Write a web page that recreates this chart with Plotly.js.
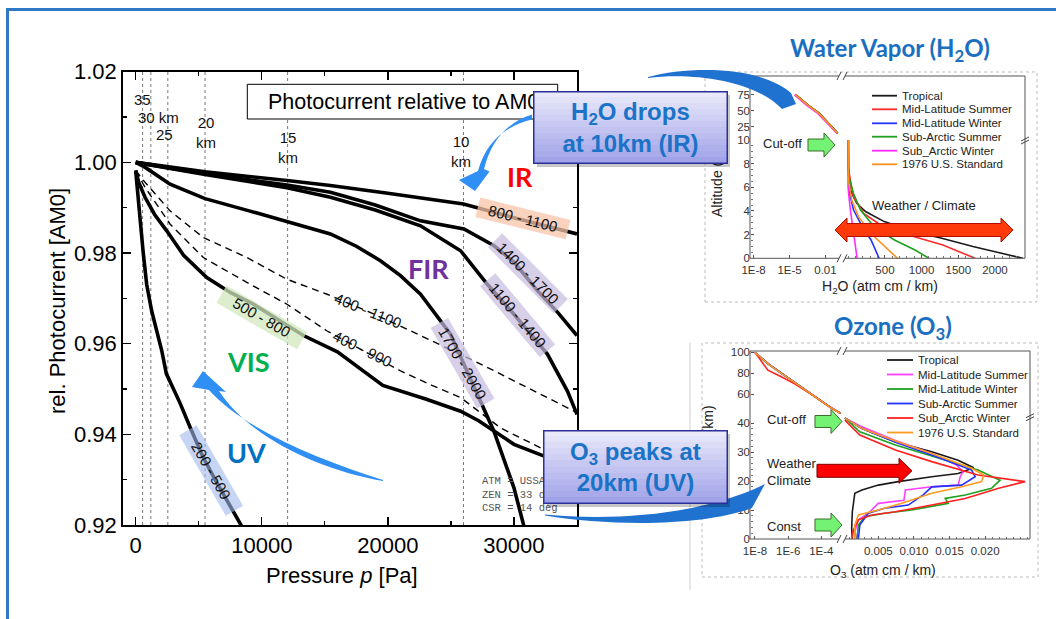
<!DOCTYPE html>
<html><head><meta charset="utf-8">
<script src="https://cdn.plot.ly/plotly-3.0.1.min.js"></script>
<style>html,body{margin:0;padding:0;background:#fff;}#chart{width:1056px;height:619px;}</style>
</head><body><div id="chart"></div>
<script>
// ================= MAIN CHART DATA (pressure in Pa, photocurrent rel. to AM0) =================
const p_IR_800_1100 = [0, 2550, 5500, 12000, 15440, 20000, 26000, 30000, 35000];
const v_IR_800_1100 = [1.0000, 0.9990, 0.9979, 0.9960, 0.9949, 0.9932, 0.9908, 0.9878, 0.9842];

const p_1400_1700 = [0, 2550, 5500, 12000, 15440, 19000, 22590, 26030, 28420, 30000, 31860, 33500, 35000];
const v_1400_1700 = [1.0000, 0.9988, 0.9975, 0.9950, 0.9934, 0.9906, 0.9871, 0.9853, 0.9816, 0.9780, 0.9717, 0.9668, 0.9618];

const p_1100_1400 = [0, 2550, 5500, 12000, 15440, 19000, 22590, 25770, 27890, 30000, 32650, 34250, 35000];
const v_1100_1400 = [1.0000, 0.9987, 0.9973, 0.9944, 0.9923, 0.9895, 0.9860, 0.9805, 0.9731, 0.9665, 0.9577, 0.9495, 0.9444];

const p_FIR_1700_2000 = [0, 700, 2725, 5500, 9000, 12000, 15440, 17500, 19410, 21000, 22590, 24970, 27360, 28410, 30000, 30800, 31000];
const v_FIR_1700_2000 = [1.0000, 0.9990, 0.9952, 0.9920, 0.9893, 0.9870, 0.9842, 0.9815, 0.9783, 0.9750, 0.9709, 0.9621, 0.9473, 0.9407, 0.9282, 0.9193, 0.9175];

const p_VIS_500_800 = [0, 250, 740, 1500, 2460, 3800, 5640, 7500, 9350, 11500, 13300, 16000, 19600, 23000, 25770, 27200, 28410, 30000, 32390, 35000];
const v_VIS_500_800 = [0.9982, 0.9955, 0.9923, 0.9885, 0.9849, 0.9795, 0.9746, 0.9713, 0.9687, 0.9650, 0.9618, 0.9582, 0.9508, 0.9478, 0.9451, 0.9430, 0.9407, 0.9378, 0.9352, 0.9330];

const p_400_1100 = [0, 740, 2725, 5370, 8820, 12000, 15180, 18500, 21530, 24500, 27360, 30000, 32500, 35000];
const v_400_1100 = [0.9982, 0.9956, 0.9893, 0.9834, 0.9790, 0.9742, 0.9709, 0.9670, 0.9632, 0.9593, 0.9555, 0.9518, 0.9483, 0.9448];

const p_400_900 = [0, 740, 2725, 5370, 8820, 12000, 15180, 18000, 21000, 23500, 25770, 28940, 32120, 35000];
const v_400_900 = [0.9982, 0.9945, 0.9864, 0.9790, 0.9735, 0.9687, 0.9628, 0.9586, 0.9540, 0.9508, 0.9481, 0.9414, 0.9370, 0.9332];

const p_UV_200_500 = [0, 150, 340, 600, 870, 1270, 2070, 2430, 3500, 4400, 5320, 6200, 7000, 8360, 8700];
const v_UV_200_500 = [0.9982, 0.9930, 0.9878, 0.9800, 0.9731, 0.9672, 0.9584, 0.9534, 0.9470, 0.9410, 0.9351, 0.9305, 0.9266, 0.9200, 0.9183];

// altitude marker lines (pressure at altitude)
const kmPressure = [550, 1200, 2550, 5500, 12050, 26000];
const kmLabels = ['35', '30 km', '25', '20<br>km', '15<br>km', '10<br>km'];

const xTickVals = [0, 10000, 20000, 30000];
const yTickVals = [0.92, 0.94, 0.96, 0.98, 1.00, 1.02];

// ================= INSET DATA =================
const models = ['Tropical', 'Mid-Latitude Summer', 'Mid-Latitude Winter', 'Sub-Arctic Summer', 'Sub_Arctic Winter', '1976 U.S. Standard'];

// Water vapour, lower part (0-10 km), H2O in atm cm / km
const h2oTropical = [0, 2, 25, 115, 235, 490, 900, 1275, 1700, 2110, 2380];
const altTropical = [10, 7.7, 5.8, 4.65, 3.95, 3.1, 2.25, 1.7, 1.0, 0.42, 0];
const h2oMLS = [0, 3, 70, 210, 445, 820, 1290, 1730];
const altMLS = [10, 7.5, 5.2, 3.8, 2.8, 1.97, 1.12, 0];
const h2oMLW = [0, 2, 70, 190, 310, 420];
const altMLW = [10, 5.9, 4.1, 2.67, 1.55, 0];
const h2oSAS = [0, 2, 70, 165, 350, 630, 910, 1100];
const altSAS = [10, 7.0, 5.5, 4.1, 2.67, 1.55, 0.7, 0];
const h2oSAW = [0, 2, 28, 75, 120];
const altSAW = [10, 5.6, 4.1, 2.1, 0];
const h2oStd = [0, 2, 48, 140, 310, 500, 670];
const altStd = [10, 6.6, 4.9, 3.5, 2.1, 1.0, 0];

// Water vapour, upper part (log scale)
const h2oUpAlt = [75, 59, 46, 25, 14.6];
const h2oUpTropical = [3.5e-5, 3.6e-4, 3.2e-3, 3.3e-2, 0.11];
const h2oUpMLS = [3.3e-5, 3.4e-4, 3.0e-3, 3.1e-2, 0.10];
const h2oUpMLW = [3.0e-5, 3.0e-4, 2.7e-3, 2.8e-2, 0.095];
const h2oUpSAS = [3.4e-5, 3.5e-4, 3.1e-3, 3.2e-2, 0.105];
const h2oUpSAW = [2.6e-5, 2.6e-4, 2.3e-3, 2.5e-2, 0.09];
const h2oUpStd = [3.2e-5, 3.3e-4, 2.9e-3, 3.0e-2, 0.10];

// Ozone, lower part (0-42 km), O3 in atm cm / km
const o3Tropical = [0.0003, 0.0027, 0.0074, 0.0125, 0.0162, 0.0184, 0.0162, 0.0125, 0.0078, 0.0050, 0.0027, 0.0017, 0.00135, 0.00126, 0.00135];
const o3AltTropical = [41.8, 38.1, 33.5, 30.1, 27.2, 24.6, 22.6, 21.5, 19.8, 18.6, 16.9, 15.8, 9.4, 3.7, 0];
const o3MLS = [0.0003, 0.0027, 0.0074, 0.0125, 0.0160, 0.0169, 0.0165, 0.0162, 0.0125, 0.0088, 0.0086, 0.0050, 0.0036, 0.0022, 0.0017, 0.0020];
const o3AltMLS = [41.8, 38.7, 34.0, 29.5, 25.5, 23.2, 21.5, 18.6, 18.0, 16.9, 13.4, 12.3, 8.9, 6.6, 2.5, 0];
const o3MLW = [0.0003, 0.0024, 0.0074, 0.0125, 0.0190, 0.0221, 0.0209, 0.0172, 0.0144, 0.0148, 0.0097, 0.0059, 0.0031, 0.0022, 0.0020];
const o3AltMLW = [41.8, 37.0, 32.4, 28.7, 23.8, 20.3, 17.5, 15.2, 14.0, 12.3, 10.0, 8.9, 7.7, 4.8, 0];
const o3SAS = [0.0003, 0.0027, 0.0078, 0.0125, 0.0181, 0.0186, 0.0167, 0.0125, 0.0113, 0.0092, 0.0059, 0.0036, 0.0024, 0.0022];
const o3AltSAS = [41.8, 38.1, 33.0, 29.0, 23.8, 21.5, 18.6, 18.0, 15.2, 11.7, 10.6, 8.9, 4.8, 0];
const o3SAW = [0.0003, 0.0024, 0.0074, 0.0125, 0.0190, 0.0256, 0.0219, 0.0172, 0.0125, 0.0074, 0.0041, 0.0022, 0.0015, 0.0013];
const o3AltSAW = [41.0, 35.9, 30.7, 26.7, 22.1, 19.8, 17.5, 14.0, 11.7, 9.4, 8.3, 6.6, 3.1, 0];
const o3Std = [0.0003, 0.0027, 0.0078, 0.0125, 0.0181, 0.0198, 0.0195, 0.0167, 0.0125, 0.0083, 0.0050, 0.0022, 0.0017, 0.0017];
const o3AltStd = [41.8, 38.1, 33.5, 29.5, 24.4, 22.1, 19.8, 18.0, 15.8, 12.3, 10.0, 8.3, 4.8, 0];

// Ozone, upper part (log scale)
const o3UpAlt = [100, 89, 80, 71, 59, 48, 42];
const o3UpAltSAW = [100, 83, 77, 70, 59, 48, 42];
const o3UpTropical = [1e-8, 6.5e-8, 4.2e-7, 2.6e-6, 3.3e-5, 3.3e-4, 1.45e-3];
const o3UpMLS = [1e-8, 6.2e-8, 4.0e-7, 2.5e-6, 3.2e-5, 3.2e-4, 1.45e-3];
const o3UpMLW = [1e-8, 6.0e-8, 3.9e-7, 2.4e-6, 3.1e-5, 3.1e-4, 1.45e-3];
const o3UpSAS = [1e-8, 6.4e-8, 4.1e-7, 2.6e-6, 3.3e-5, 3.3e-4, 1.45e-3];
const o3UpSAW = [1e-8, 6.0e-8, 3.6e-7, 2.5e-6, 3.1e-5, 3.1e-4, 1.40e-3];
const o3UpStd = [1e-8, 6.2e-8, 4.0e-7, 2.5e-6, 3.2e-5, 3.2e-4, 1.45e-3];

// ================= helpers =================
const W = 1056, H = 619;
const X = px => px / W;
const Y = py => 1 - py / H;
const FONT = 'Liberation Sans, Arial, sans-serif';
const CAL = 'Lato, Liberation Sans, sans-serif';
function sp(cmds) {
  return cmds.map(c => c[0] === 'Z' ? 'Z' : c[0] + c.slice(1).map(([a, b]) => X(a).toFixed(5) + ',' + Y(b).toFixed(5)).join(' ')).join(' ');
}
function poly(pts) { return 'M' + pts.map(([a, b]) => X(a).toFixed(5) + ',' + Y(b).toFixed(5)).join('L') + 'Z'; }
function arrowPts(x0, x1, yc, hs, hh, hl) {
  return [[x0, yc - hs / 2], [x1 - hl, yc - hs / 2], [x1 - hl, yc - hh / 2], [x1, yc], [x1 - hl, yc + hh / 2], [x1 - hl, yc + hs / 2], [x0, yc + hs / 2]];
}
function dblArrowPts(xl, xr, yc, hs, hh, hl) {
  return [[xl, yc], [xl + hl, yc - hh / 2], [xl + hl, yc - hs / 2], [xr - hl, yc - hs / 2], [xr - hl, yc - hh / 2], [xr, yc],
          [xr - hl, yc + hh / 2], [xr - hl, yc + hs / 2], [xl + hl, yc + hs / 2], [xl + hl, yc + hh / 2]];
}
function ann(px, py, text, opt) {
  return Object.assign({xref: 'paper', yref: 'paper', x: X(px), y: Y(py), text: text, showarrow: false,
    xanchor: 'center', yanchor: 'middle', font: {family: FONT, size: 13, color: '#222'}}, opt || {});
}

// ================= traces =================
const traces = [];
const mainCurves = [
  {p: p_400_1100, v: v_400_1100, dash: true},
  {p: p_400_900, v: v_400_900, dash: true},
  {p: p_IR_800_1100, v: v_IR_800_1100},
  {p: p_1400_1700, v: v_1400_1700},
  {p: p_1100_1400, v: v_1100_1400},
  {p: p_FIR_1700_2000, v: v_FIR_1700_2000},
  {p: p_VIS_500_800, v: v_VIS_500_800},
  {p: p_UV_200_500, v: v_UV_200_500}
];
mainCurves.forEach(c => traces.push({
  x: c.p, y: c.v, xaxis: 'x', yaxis: 'y', mode: 'lines', hoverinfo: 'skip',
  line: c.dash ? {color: '#000', width: 1.4, dash: '7px,5px'} : {color: '#000', width: 3.6}
}));

const h2oColors = ['#1a1a1a', '#ff2b2b', '#2233ff', '#1fa01f', '#ff2bff', '#ff9020'];
const h2oLow = [[h2oTropical, altTropical], [h2oMLS, altMLS], [h2oMLW, altMLW], [h2oSAS, altSAS], [h2oSAW, altSAW], [h2oStd, altStd]];
const h2oUp = [h2oUpTropical, h2oUpMLS, h2oUpMLW, h2oUpSAS, h2oUpSAW, h2oUpStd];
h2oLow.forEach((d, i) => traces.push({x: d[0], y: d[1], xaxis: 'x3', yaxis: 'y2', mode: 'lines', hoverinfo: 'skip', line: {color: h2oColors[i], width: 1.6}}));
h2oUp.forEach((d, i) => traces.push({x: d, y: h2oUpAlt, xaxis: 'x2', yaxis: 'y3', mode: 'lines', hoverinfo: 'skip', line: {color: h2oColors[i], width: 1.6}}));

const o3Colors = ['#1a1a1a', '#ff40ff', '#1fa01f', '#2233ff', '#ff2020', '#ff9a20'];
const o3Low = [[o3Tropical, o3AltTropical], [o3MLS, o3AltMLS], [o3MLW, o3AltMLW], [o3SAS, o3AltSAS], [o3SAW, o3AltSAW], [o3Std, o3AltStd]];
const o3Up = [o3UpTropical, o3UpMLS, o3UpMLW, o3UpSAS, o3UpSAW, o3UpStd];
o3Low.forEach((d, i) => traces.push({x: d[0], y: d[1], xaxis: 'x5', yaxis: 'y4', mode: 'lines', hoverinfo: 'skip', line: {color: o3Colors[i], width: 1.6}}));
o3Up.forEach((d, i) => traces.push({x: d, y: i === 4 ? o3UpAltSAW : o3UpAlt, xaxis: 'x4', yaxis: 'y5', mode: 'lines', hoverinfo: 'skip', line: {color: o3Colors[i], width: 1.6}}));

// ================= shapes =================
const shapes = [];
shapes.push({type: 'rect', xref: 'paper', yref: 'paper', x0: X(7.5), x1: X(1070), y0: Y(640), y1: Y(9.5), line: {color: '#2e78c6', width: 3}});
kmPressure.forEach(p => shapes.push({type: 'line', xref: 'x', yref: 'y', x0: p, x1: p, y0: 0.92, y1: 1.02, layer: 'below', line: {color: '#777', width: 1, dash: 'dot'}}));
shapes.push({type: 'rect', xref: 'paper', yref: 'paper', x0: X(247.3), x1: X(557.7), y0: Y(119), y1: Y(84.3), fillcolor: '#fff', line: {color: '#000', width: 1}});
shapes.push({type: 'rect', xref: 'paper', yref: 'paper', x0: X(705), x1: X(1037), y0: Y(302), y1: Y(72), line: {color: '#bbb', width: 1, dash: 'dot'}});
shapes.push({type: 'rect', xref: 'paper', yref: 'paper', x0: X(702), x1: X(1038), y0: Y(577), y1: Y(343), line: {color: '#bbb', width: 1, dash: 'dot'}});
shapes.push({type: 'line', xref: 'paper', yref: 'paper', x0: X(690), x1: X(690), y0: Y(590), y1: Y(343), line: {color: '#d0d0d0', width: 1}});
shapes.push({type: 'rect', xref: 'paper', yref: 'paper', x0: X(750), x1: X(1025), y0: Y(258.3), y1: Y(76), line: {color: '#555', width: 1}});
shapes.push({type: 'rect', xref: 'paper', yref: 'paper', x0: X(750), x1: X(1030), y0: Y(539), y1: Y(351), line: {color: '#555', width: 1}});
function breakMark(x, y) {
  shapes.push({type: 'rect', xref: 'paper', yref: 'paper', x0: X(x - 3), x1: X(x + 3), y0: Y(y + 3), y1: Y(y - 3), fillcolor: '#fff', line: {width: 0}});
  shapes.push({type: 'line', xref: 'paper', yref: 'paper', x0: X(x - 5), x1: X(x - 1), y0: Y(y + 4), y1: Y(y - 4), line: {color: '#444', width: 1}});
  shapes.push({type: 'line', xref: 'paper', yref: 'paper', x0: X(x + 1), x1: X(x + 5), y0: Y(y + 4), y1: Y(y - 4), line: {color: '#444', width: 1}});
}
breakMark(842, 258.3); breakMark(842, 76); breakMark(842, 539); breakMark(842, 351);
function hBreak(x, y) {
  shapes.push({type: 'line', xref: 'paper', yref: 'paper', x0: X(x - 4), x1: X(x + 4), y0: Y(y + 1), y1: Y(y - 3), line: {color: '#444', width: 1}});
  shapes.push({type: 'line', xref: 'paper', yref: 'paper', x0: X(x - 4), x1: X(x + 4), y0: Y(y + 4), y1: Y(y), line: {color: '#444', width: 1}});
}
hBreak(1025, 140); hBreak(1030, 416.7);
const green = {fillcolor: '#74f274', line: {color: '#3a6e2a', width: 1}};
[[808, 835, 145], [815, 842, 421.5], [815, 842, 525]].forEach(a =>
  shapes.push(Object.assign({type: 'path', xref: 'paper', yref: 'paper', path: poly(arrowPts(a[0], a[1], a[2], 12, 24, 11))}, green)));
shapes.push({type: 'path', xref: 'paper', yref: 'paper', path: poly(arrowPts(817, 912, 470.8, 13, 25, 13)), fillcolor: '#ff0000', line: {color: '#7a0000', width: 1}});
shapes.push({type: 'path', xref: 'paper', yref: 'paper', path: poly(dblArrowPts(835, 1013, 230, 13, 24, 12)), fillcolor: '#ff3a0a', line: {color: '#b01000', width: 1}});
shapes.push({type: 'path', xref: 'paper', yref: 'paper', fillcolor: '#2f8ff5', line: {width: 0},
  path: sp([['M', [532, 114.5]], ['Q', [495, 126], [484, 169]], ['L', [489.5, 171.5]], ['L', [475, 191]], ['L', [459, 180]], ['L', [478, 171]], ['Q', [489, 130], [532, 119.5]], ['Z']])});
shapes.push({type: 'path', xref: 'paper', yref: 'paper', fillcolor: '#2f8ff5', line: {width: 0},
  path: sp([['M', [383, 480]], ['C', [320, 460], [245, 430], [209, 390]], ['L', [192, 387]], ['L', [203, 371]], ['L', [226, 392]], ['L', [219, 391]], ['C', [250, 438], [320, 470], [383, 481]], ['Z']])});
shapes.push({type: 'path', xref: 'paper', yref: 'paper', fillcolor: '#1f72cf', line: {width: 0},
  path: sp([['M', [648, 77]], ['C', [690, 66], [760, 66], [791, 93]], ['L', [796, 104]], ['L', [782, 109]], ['C', [755, 80], [690, 72], [648, 78]], ['Z']])});
shapes.push({type: 'path', xref: 'paper', yref: 'paper', fillcolor: '#1f72cf', line: {width: 0},
  path: sp([['M', [545, 514.5]], ['C', [610, 521], [700, 516], [765, 484]], ['L', [752, 508]], ['C', [700, 527], [610, 526], [545, 515.5]], ['Z']])});
const wvRows = [95.7, 109.3, 123.3, 136.7, 150.7, 164.3];
const ozRows = [360, 374.5, 389, 403.5, 418, 432.5];
wvRows.forEach((y, i) => shapes.push({type: 'line', xref: 'paper', yref: 'paper', x0: X(872), x1: X(897), y0: Y(y), y1: Y(y), line: {color: h2oColors[i], width: 1.8}}));
ozRows.forEach((y, i) => shapes.push({type: 'line', xref: 'paper', yref: 'paper', x0: X(887), x1: X(913), y0: Y(y), y1: Y(y), line: {color: o3Colors[i], width: 1.8}}));

// ================= annotations =================
const anns = [];
anns.push(ann(342, 575, 'Pressure <i>p</i> [Pa]', {font: {family: FONT, size: 22, color: '#000'}}));
anns.push(ann(57, 301, 'rel. Photocurrent [AM0]', {textangle: -90, font: {family: FONT, size: 22, color: '#000'}}));
anns.push(ann(403.5, 101.5, 'Photocurrent relative to AM0', {font: {family: FONT, size: 21.5, color: '#000'}}));
const kmPos = [[142, 99], [158.5, 117], [164, 135], [206, 132], [288, 147], [461, 152]];
kmLabels.forEach((t, i) => anns.push(ann(kmPos[i][0], kmPos[i][1], t, {font: {family: FONT, size: 15, color: '#111'}})));
const bandLabels = [
  ['800 - 1100', 523.3, 218.3, 14, 'rgba(248,196,170,0.75)'],
  ['1400 - 1700', 528.3, 273.3, 45, 'rgba(200,186,224,0.7)'],
  ['1100 - 1400', 518, 315, 50, 'rgba(200,186,224,0.7)'],
  ['1700 - 2000', 463, 363, 60, 'rgba(200,186,224,0.7)'],
  ['500 - 800', 262, 317, 30, 'rgba(210,232,190,0.75)'],
  ['200 - 500', 211, 470.7, 60, 'rgba(160,185,235,0.6)'],
  ['400 - 1100', 368, 310, 22, null],
  ['400 - 900', 362, 348, 26, null]
];
bandLabels.forEach(b => anns.push(ann(b[1], b[2], b[0], Object.assign({textangle: b[3], font: {family: FONT, size: 15, color: '#111'}},
  b[4] ? {bgcolor: b[4], width: 90, height: 17, borderpad: 1} : {}))));
anns.push(ann(520, 176, '<b>IR</b>', {font: {family: CAL, size: 27, color: '#ff0000'}}));
anns.push(ann(428, 268, '<b>FIR</b>', {font: {family: CAL, size: 27, color: '#7030a0'}}));
anns.push(ann(248, 361, '<b>VIS</b>', {font: {family: CAL, size: 27, color: '#00b050'}}));
anns.push(ann(246, 452, '<b>UV</b>', {font: {family: CAL, size: 27, color: '#0070c0'}}));
anns.push(ann(480, 494, 'ATM = USSA<br>ZEN = 33 deg<br>CSR = 14 deg', {xanchor: 'left', align: 'left', font: {family: 'Liberation Mono, monospace', size: 10.5, color: '#555'}}));

anns.push(ann(890, 49, '<b>Water Vapor (H<sub>2</sub>O)</b>', {font: {family: CAL, size: 24, color: '#1a6fc2'}}));
anns.push(ann(893, 327, '<b>Ozone (O<sub>3</sub>)</b>', {font: {family: CAL, size: 24, color: '#1a6fc2'}}));
anns.push(ann(880, 287, 'H<sub>2</sub>O (atm cm / km)', {font: {family: FONT, size: 14, color: '#222'}}));
anns.push(ann(882.5, 571, 'O<sub>3</sub> (atm cm / km)', {font: {family: FONT, size: 14, color: '#222'}}));
anns.push(ann(717, 178, 'Altitude (km)', {textangle: -90, font: {family: FONT, size: 14, color: '#222'}}));
anns.push(ann(708, 445, 'Altitude (km)', {textangle: -90, font: {family: FONT, size: 14, color: '#222'}}));
anns.push(ann(782, 143.5, 'Cut-off', {font: {family: FONT, size: 13, color: '#222'}}));
anns.push(ann(924, 205, 'Weather / Climate', {font: {family: FONT, size: 13, color: '#222'}}));
anns.push(ann(765, 420, 'Cut-off', {xanchor: 'left', font: {family: FONT, size: 13, color: '#222'}}));
anns.push(ann(765, 471.5, 'Weather<br>Climate', {xanchor: 'left', align: 'left', font: {family: FONT, size: 13, color: '#222'}}));
anns.push(ann(765, 526, 'Const', {xanchor: 'left', font: {family: FONT, size: 13, color: '#222'}}));
models.forEach((m, i) => {
  anns.push(ann(899.5, wvRows[i], m, {xanchor: 'left', font: {family: FONT, size: 11.5, color: '#222'}}));
  anns.push(ann(915.5, ozRows[i], m, {xanchor: 'left', font: {family: FONT, size: 11.5, color: '#222'}}));
});

// callout boxes with vertical gradient (drawn last, on top)
const NB = '\u00a0';
function callout(x0, y0, x1, y1, text) {
  const cx = (x0 + x1) / 2, w = x1 - x0, h = y1 - y0;
  anns.push(ann(cx + 3, (y0 + y1) / 2 + 3, NB, {width: w, height: h, bgcolor: 'rgba(0,0,0,0.22)', borderpad: 0, borderwidth: 0, font: {size: 4}}));
  const N = 12, top = [236, 236, 251], bot = [158, 160, 232];
  for (let i = 0; i < N; i++) {
    const t = (i + 0.5) / N;
    const c = top.map((v, k) => Math.round(v + (bot[k] - v) * t));
    anns.push(ann(cx, y0 + h * (i + 0.5) / N, NB, {width: w, height: h / N + 0.8, bgcolor: 'rgb(' + c.join(',') + ')', borderpad: 0, borderwidth: 0, font: {size: 4}}));
  }
  anns.push(ann(cx, (y0 + y1) / 2, text, {width: w - 1.5, height: h - 1.5, borderpad: 0, borderwidth: 1.5, bordercolor: '#2a2f9c',
    font: {family: FONT, size: 24, color: '#1a73c6'}}));
}
callout(533.3, 91.7, 726.7, 163.3, '<b>H<sub>2</sub>O drops<br>at 10km (IR)</b>');
callout(543.3, 430.7, 726.7, 503.3, '<b>O<sub>3</sub> peaks at<br>20km (UV)</b>');

// ================= layout =================
const insetTick = {family: FONT, size: 11.5, color: '#333'};
const baseInset = {showgrid: false, zeroline: false, showline: false, ticks: 'inside', ticklen: 3, tickcolor: '#555', tickfont: insetTick, anchor: 'free'};
const layout = {
  width: W, height: H, margin: {l: 0, r: 0, t: 0, b: 0, pad: 0},
  paper_bgcolor: '#fff', plot_bgcolor: 'rgba(0,0,0,0)', showlegend: false, hovermode: false,
  xaxis: {domain: [X(122.7), X(577)], range: [-1030, 35000], anchor: 'y', showline: true, linecolor: '#000', linewidth: 1.5,
    mirror: 'ticks', ticks: 'inside', ticklen: 8, tickwidth: 1.3, tickcolor: '#000', tickvals: xTickVals, tickformat: 'd',
    minor: {dtick: 5000, tick0: 0, ticks: 'inside', ticklen: 4, tickcolor: '#000', showgrid: false},
    showgrid: false, zeroline: false, tickfont: {family: FONT, size: 22, color: '#000'}},
  yaxis: {domain: [Y(525), Y(71.7)], range: [0.92, 1.02], anchor: 'x', showline: true, linecolor: '#000', linewidth: 1.5,
    mirror: 'ticks', ticks: 'inside', ticklen: 8, tickwidth: 1.3, tickcolor: '#000', tickvals: yTickVals, tickformat: '.2f',
    minor: {dtick: 0.01, tick0: 0.92, ticks: 'inside', ticklen: 4, tickcolor: '#000', showgrid: false},
    showgrid: false, zeroline: false, tickfont: {family: FONT, size: 22, color: '#000'}},
  xaxis2: Object.assign({}, baseInset, {domain: [X(750), X(842)], type: 'log', range: [-8.3, -0.62], position: Y(258.3),
    ticklabelstandoff: 3, tickvals: [1e-8, 1e-5, 1e-2], ticktext: ['1E-8', '1E-5', '0.01']}),
  xaxis3: Object.assign({}, baseInset, {domain: [X(842), X(1025)], range: [-86, 2410], position: Y(258.3), ticklabelstandoff: 3,
    tickvals: [500, 1000, 1500, 2000], minor: {dtick: 100, ticks: 'inside', ticklen: 2, tickcolor: '#777'}}),
  yaxis2: Object.assign({}, baseInset, {domain: [Y(258.3), Y(140)], range: [0, 10], position: X(750),
    tickvals: [0, 2, 4, 6, 8, 10], minor: {dtick: 0.5, ticks: 'inside', ticklen: 2, tickcolor: '#777'}}),
  yaxis3: Object.assign({}, baseInset, {domain: [Y(140), Y(76)], range: [4.05, 104.9], position: X(750), tickvals: [25, 50, 75]}),
  xaxis4: Object.assign({}, baseInset, {domain: [X(750), X(842)], type: 'log', range: [-8.3, -2.75], position: Y(539),
    ticklabelstandoff: 3, tickvals: [1e-8, 1e-6, 1e-4], ticktext: ['1E-8', '1E-6', '1E-4']}),
  xaxis5: Object.assign({}, baseInset, {domain: [X(842), X(1030)], range: [-0.0001, 0.0263], position: Y(539), ticklabelstandoff: 3,
    tickvals: [0.005, 0.010, 0.015, 0.020], tickformat: '.3f', minor: {dtick: 0.001, ticks: 'inside', ticklen: 2, tickcolor: '#777'}}),
  yaxis4: Object.assign({}, baseInset, {domain: [Y(539), Y(416.7)], range: [0, 42.2], position: X(750),
    tickvals: [0, 10, 20, 30, 40], minor: {dtick: 2, ticks: 'inside', ticklen: 2, tickcolor: '#777'}}),
  yaxis5: Object.assign({}, baseInset, {domain: [Y(416.7), Y(351)], range: [38.7, 101.3], position: X(750), tickvals: [60, 80, 100]}),
  shapes: shapes,
  annotations: anns
};
Plotly.newPlot('chart', traces, layout, {displayModeBar: false, staticPlot: true});
</script>
</body></html>
